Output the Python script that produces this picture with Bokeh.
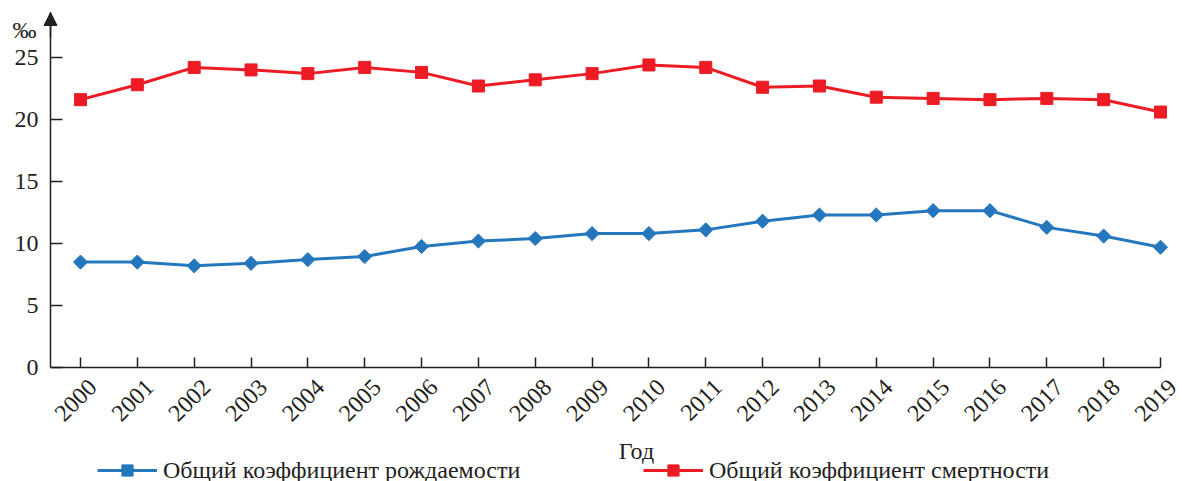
import math
from bokeh.plotting import figure
from bokeh.models import (Range1d, FixedTicker, Legend, LegendItem, Arrow, NormalHead,
                          LinearAxis, Label)
from bokeh.embed import file_html
from bokeh.resources import INLINE

years = list(range(2000, 2020))
year_labels = [str(y) for y in years]
birth_rate = [8.5, 8.5, 8.2, 8.4, 8.7, 8.95, 9.76, 10.2, 10.4, 10.8,
              10.8, 11.1, 11.8, 12.3, 12.3, 12.65, 12.65, 11.3, 10.6, 9.7]
death_rate = [21.6, 22.8, 24.2, 24.0, 23.7, 24.2, 23.8, 22.7, 23.2, 23.7,
              24.4, 24.2, 22.6, 22.7, 21.8, 21.7, 21.6, 21.7, 21.6, 20.6]
y_ticks = [0, 5, 10, 15, 20, 25]
label_birth = "Общий коэффициент рождаемости"
label_death = "Общий коэффициент смертности"
x_title = "Год"
y_unit = "‰"

FONT = "Liberation Serif"
TXT = "#231f20"
BLUE = "#2577bd"
RED = "#ed1c24"
FS = "24px"

W, H = 1182, 481
# pixel geometry of the reference: 2000 at x=80, 2019 at x=1160, value 0 at y=367, 12.4 px per unit
px_year = (1160 - 80) / 19
px_unit = 12.4
xr0 = 2000 - 80 / px_year
xr1 = 2000 + (W - 80) / px_year
yr0 = -(H - 367) / px_unit
yr1 = 367 / px_unit
x_axis_pos = 2000 - 30 / px_year      # y axis at x=50
y_top = (367 - 12) / px_unit          # arrow tip
lab_shift = 0.22

p = figure(width=W, height=H, output_backend="svg", toolbar_location=None, title=None,
           x_range=Range1d(xr0, xr1), y_range=Range1d(yr0, yr1),
           min_border=0, x_axis_type=None, y_axis_type=None)
p.outline_line_color = None
p.background_fill_color = None
p.border_fill_color = None

lb = p.line(years, birth_rate, line_color=BLUE, line_width=3)
mb = p.scatter(years, birth_rate, marker="square", angle=math.pi / 4, size=10,
               fill_color=BLUE, line_color=BLUE)
ld = p.line(years, death_rate, line_color=RED, line_width=3)
md = p.scatter(years, death_rate, marker="square", size=12, fill_color=RED, line_color=RED)

# x axis: line and tick marks
xa = LinearAxis(ticker=FixedTicker(ticks=years), fixed_location=0,
                bounds=(x_axis_pos, 2019),
                major_label_overrides={y: "" for y in years},
                major_tick_in=10, major_tick_out=0, minor_tick_line_color=None,
                axis_line_width=1.5, major_tick_line_width=1.5,
                axis_line_color=TXT, major_tick_line_color=TXT)
p.add_layout(xa, "below")

# x axis: rotated year labels
lab_ticks = [y + lab_shift for y in years]
xl = LinearAxis(ticker=FixedTicker(ticks=lab_ticks), fixed_location=0,
                major_label_overrides={t: s for t, s in zip(lab_ticks, year_labels)},
                major_label_orientation=math.pi / 4,
                major_label_text_font=FONT, major_label_text_font_size=FS,
                major_label_text_color=TXT, major_label_standoff=10,
                axis_line_color=None, major_tick_line_color=None, minor_tick_line_color=None)
p.add_layout(xl, "below")

# y axis
ya = LinearAxis(ticker=FixedTicker(ticks=y_ticks), fixed_location=x_axis_pos,
                bounds=(0, y_top),
                major_tick_in=12, major_tick_out=0, minor_tick_line_color=None,
                axis_line_width=1.5, major_tick_line_width=1.5,
                axis_line_color=TXT, major_tick_line_color=TXT,
                major_label_text_font=FONT, major_label_text_font_size=FS,
                major_label_text_color=TXT, major_label_standoff=12)
p.add_layout(ya, "left")

p.add_layout(Arrow(end=NormalHead(size=13, fill_color=TXT, line_color=TXT),
                   x_start=x_axis_pos, y_start=y_top - 2, x_end=x_axis_pos, y_end=y_top,
                   line_color=TXT, line_width=1.5))

p.add_layout(Label(x=2000 - 68 / px_year, y=(367 - 29) / px_unit, text=y_unit,
                   text_font=FONT, text_font_size=FS, text_color=TXT,
                   text_align="left", text_baseline="alphabetic"))
p.add_layout(Label(x=2000 + (636 - 80) / px_year, y=(367 - 450) / px_unit, text=x_title,
                   text_font=FONT, text_font_size=FS, text_color=TXT,
                   text_align="center", text_baseline="alphabetic"))

legend = Legend(items=[LegendItem(label=label_birth, renderers=[lb, mb]),
                       LegendItem(label=label_death, renderers=[ld, md])],
                orientation="horizontal", location=(97, -3),
                glyph_width=60, glyph_height=28, label_width=410, label_height=22,
                label_standoff=6, spacing=70, padding=0, margin=0,
                border_line_color=None, background_fill_alpha=0,
                label_text_font=FONT, label_text_font_size=FS, label_text_color=TXT)
p.add_layout(legend)

open("out.html", "w").write(file_html(p, INLINE))
